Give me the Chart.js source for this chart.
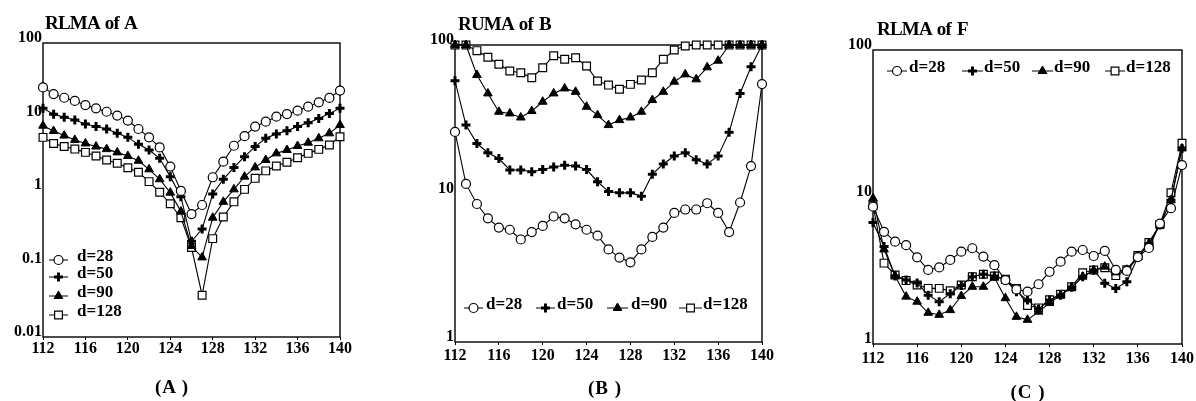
<!DOCTYPE html>
<html>
<head>
<meta charset="utf-8">
<title>RLMA</title>
<script src="https://cdn.jsdelivr.net/npm/chart.js"></script>
<style>
  body { margin: 0; background: #fff; }
  #page { position: relative; width: 1196px; height: 401px; overflow: hidden; }
  canvas { position: absolute; left: 0; top: 0; }
  .ttl { position: absolute; font: bold 19px 'Liberation Serif', serif; color: #000; white-space: nowrap; letter-spacing: -0.8px; word-spacing: 2px; }
  .cap { position: absolute; font: bold 19px 'Liberation Serif', serif; color: #000; white-space: nowrap; transform: translate(-50%, -50%); letter-spacing: 1px; }
</style>
</head>
<body>
<div id="page">
  <canvas id="chartA" width="1196" height="401"></canvas>
  <canvas id="chartB" width="1196" height="401"></canvas>
  <canvas id="chartC" width="1196" height="401"></canvas>
  <div class="ttl" style="left:45px;top:12px">RLMA of A</div>
  <div class="ttl" style="left:458px;top:13px">RUMA of B</div>
  <div class="ttl" style="left:877px;top:18px">RLMA of F</div>
  <div class="cap" style="left:172px;top:387px">(A )</div>
  <div class="cap" style="left:605px;top:388px">(B )</div>
  <div class="cap" style="left:1028px;top:392px">(C )</div>
</div>
<script>
'use strict';

// shared x values and labels
let positions = [112, 113, 114, 115, 116, 117, 118, 119, 120, 121, 122, 123, 124, 125, 126,
  127, 128, 129, 130, 131, 132, 133, 134, 135, 136, 137, 138, 139, 140];
let xTicks = [112, 116, 120, 124, 128, 132, 136, 140];
let legendLabels = ['d=28', 'd=50', 'd=90', 'd=128'];

// panel A
let yTicksA = [0.01, 0.1, 1, 10, 100];
let aD28 = [24.9, 20.2, 18.0, 16.3, 14.3, 12.9, 11.6, 10.3, 8.8, 6.76, 5.2, 3.8, 2.08, 0.97, 0.47,
  0.625, 1.49, 2.43, 4.0, 5.4, 7.3, 8.5, 9.95, 10.8, 12.0, 13.6, 15.6, 17.9, 22.5];
let aD50 = [12.9, 10.7, 9.75, 8.95, 7.9, 7.3, 6.76, 5.9, 5.2, 4.18, 3.5, 2.7, 1.52, 0.81, 0.2,
  0.294, 0.88, 1.40, 2.03, 2.84, 3.9, 5.05, 5.8, 6.4, 7.3, 8.2, 9.4, 11.0, 12.9];
let aD90 = [7.5, 6.35, 5.5, 4.8, 4.3, 3.9, 3.6, 3.25, 2.9, 2.5, 1.91, 1.40, 0.92, 0.51, 0.173,
  0.121, 0.42, 0.69, 1.02, 1.52, 2.03, 2.56, 3.15, 3.5, 3.97, 4.4, 5.05, 5.9, 7.65];
let aD128 = [5.2, 4.3, 3.9, 3.6, 3.25, 2.9, 2.56, 2.31, 2.01, 1.74, 1.30, 0.93, 0.65, 0.42, 0.165,
  0.037, 0.218, 0.43, 0.69, 1.02, 1.44, 1.82, 2.12, 2.38, 2.75, 3.15, 3.57, 4.1, 5.3];

// panel B
let yTicksB = [1, 10, 100];
let bD28 = [26.0, 11.6, 8.5, 6.8, 5.9, 5.7, 4.9, 5.5, 6.05, 7.0, 6.8, 6.2, 5.7, 5.2, 4.2,
  3.7, 3.44, 4.2, 5.1, 5.9, 7.4, 7.8, 7.8, 8.6, 7.4, 5.5, 8.7, 15.3, 54.6];
let bD50 = [57.4, 28.9, 21.7, 18.8, 17.2, 14.4, 14.4, 14.0, 14.5, 15.1, 15.5, 15.3, 14.5, 12.0, 10.3,
  10.1, 10.1, 9.6, 13.5, 15.8, 17.9, 18.8, 16.9, 15.8, 17.9, 25.8, 47.2, 71.4, 100];
let bD90 = [100, 100, 62.8, 47.2, 35.5, 34.6, 32.5, 35.9, 41.5, 47.2, 51.0, 48.4, 38.4, 33.7, 28.9,
  31.2, 32.5, 35.5, 42.6, 48.4, 56.6, 63.4, 58.7, 70.7, 78.4, 100, 100, 100, 100];
let bD128 = [100, 100, 91.6, 82.6, 74.1, 66.8, 65.1, 60.2, 70.3, 84.7, 80.1, 82.1, 72.2, 57.2, 53.7,
  50.3, 54.3, 58.1, 65.1, 80.1, 92.5, 98.5, 100, 100, 100, 100, 100, 100, 100];

// panel C
let yTicksC = [1, 10, 100];
let cD28 = [8.6, 5.8, 4.97, 4.7, 3.89, 3.19, 3.32, 3.73, 4.25, 4.48, 3.93, 3.44, 2.72, 2.35, 2.27,
  2.55, 3.1, 3.63, 4.25, 4.36, 3.97, 4.3, 3.19, 3.14, 3.9, 4.5, 6.6, 8.4, 16.5];
let cD50 = [6.7, 4.6, 2.9, 2.72, 2.6, 2.15, 1.94, 2.2, 2.5, 2.87, 2.98, 2.9, 2.72, 2.27, 1.99,
  1.73, 1.99, 2.15, 2.43, 2.87, 3.17, 2.59, 2.39, 2.65, 3.9, 4.8, 6.45, 9.5, 21.4];
let cD90 = [9.8, 4.4, 2.9, 2.1, 1.94, 1.63, 1.58, 1.70, 2.12, 2.45, 2.45, 2.83, 2.05, 1.53, 1.46,
  1.66, 1.90, 2.15, 2.43, 2.87, 3.17, 3.36, 3.07, 3.2, 3.9, 4.8, 6.45, 9.5, 21.4];
let cD128 = [8.8, 3.55, 2.95, 2.7, 2.52, 2.39, 2.39, 2.3, 2.52, 2.87, 2.98, 2.9, 2.76, 2.39, 1.83,
  1.76, 2.0, 2.18, 2.45, 3.05, 3.19, 3.3, 2.92, 3.2, 4.0, 4.9, 6.5, 10.7, 23.2];

// marker look for each d value
let markers = [
  { pointStyle: 'circle', radius: 4.5, fill: '#fff', width: 1.2 },
  { pointStyle: 'cross', radius: 4.5, fill: '#000', width: 3 },
  { pointStyle: 'triangle', radius: 5, fill: '#000', width: 1 },
  { pointStyle: 'rect', radius: 5.5, fill: '#fff', width: 1.2 }
];

function drawMarker(ctx, m, x, y) {
  let r = m.radius;
  ctx.save();
  ctx.fillStyle = m.fill;
  ctx.strokeStyle = '#000';
  ctx.lineWidth = m.width;
  ctx.beginPath();
  if (m.pointStyle === 'circle') {
    ctx.arc(x, y, r, 0, Math.PI * 2);
    ctx.fill();
    ctx.stroke();
  } else if (m.pointStyle === 'cross') {
    ctx.moveTo(x - r, y);
    ctx.lineTo(x + r, y);
    ctx.moveTo(x, y - r);
    ctx.lineTo(x, y + r);
    ctx.stroke();
  } else if (m.pointStyle === 'triangle') {
    ctx.moveTo(x, y - r);
    ctx.lineTo(x + 0.866 * r, y + 0.5 * r);
    ctx.lineTo(x - 0.866 * r, y + 0.5 * r);
    ctx.closePath();
    ctx.fill();
    ctx.stroke();
  } else {
    let s = r * Math.SQRT1_2;
    ctx.rect(x - s, y - s, 2 * s, 2 * s);
    ctx.fill();
    ctx.stroke();
  }
  ctx.restore();
}

// frame round the plot area and the in-plot legend
let panelDecor = {
  id: 'panelDecor',
  beforeDatasetsDraw(chart) {
    let a = chart.chartArea;
    let ctx = chart.ctx;
    ctx.save();
    ctx.strokeStyle = '#000';
    ctx.lineWidth = 1.4;
    ctx.strokeRect(a.left, a.top, a.right - a.left, a.bottom - a.top);
    ctx.restore();
  },
  afterDatasetsDraw(chart, args, opts) {
    let ctx = chart.ctx;
    let items = opts.items || [];
    for (let i = 0; i < items.length; i++) {
      let it = items[i];
      ctx.save();
      ctx.strokeStyle = '#000';
      ctx.lineWidth = 1;
      ctx.beginPath();
      ctx.moveTo(it[0], it[3]);
      ctx.lineTo(it[1], it[3]);
      ctx.stroke();
      drawMarker(ctx, markers[i], (it[0] + it[1]) / 2, it[3]);
      ctx.fillStyle = '#000';
      ctx.font = 'bold 17px "Liberation Serif", serif';
      ctx.textBaseline = 'middle';
      ctx.fillText(legendLabels[i], it[2], it[3] - 3);
      ctx.restore();
    }
  }
};

function makePanel(id, box, yMin, yTicks, series, legendItems, xPad) {
  let yW = 40;
  let xH = 30;
  let datasets = [];
  for (let i = 0; i < series.length; i++) {
    let m = markers[i];
    datasets.push({
      label: legendLabels[i],
      data: positions.map((x, j) => ({ x: x, y: series[i][j] })),
      borderColor: '#000',
      borderWidth: 1.1,
      backgroundColor: m.fill,
      pointStyle: m.pointStyle,
      pointRadius: m.radius,
      pointBorderWidth: m.width,
      pointBorderColor: '#000',
      pointBackgroundColor: m.fill,
      tension: 0,
      clip: false
    });
  }
  return new Chart(document.getElementById(id), {
    type: 'line',
    data: { datasets: datasets },
    plugins: [panelDecor],
    options: {
      responsive: false,
      animation: false,
      events: [],
      layout: {
        padding: { left: box.l - yW, top: box.t, right: 1196 - box.r, bottom: 401 - box.b - xH }
      },
      plugins: {
        legend: { display: false },
        tooltip: { enabled: false },
        panelDecor: { items: legendItems }
      },
      scales: {
        x: {
          type: 'linear',
          min: 112,
          max: 140,
          afterBuildTicks: s => { s.ticks = xTicks.map(v => ({ value: v })); },
          afterFit: s => { s.height = xH; },
          border: { display: false },
          grid: { display: true, drawOnChartArea: false, drawTicks: true, tickLength: 3, color: '#000' },
          ticks: {
            color: '#000',
            padding: xPad,
            maxRotation: 0,
            font: { family: 'Liberation Serif', weight: 'bold', size: 16 },
            callback: v => String(v)
          }
        },
        y: {
          type: 'logarithmic',
          min: yMin,
          max: 100,
          afterBuildTicks: s => { s.ticks = yTicks.map(v => ({ value: v })); },
          afterFit: s => { s.width = yW; },
          border: { display: false },
          grid: { display: false, drawTicks: false },
          ticks: {
            color: '#000',
            padding: 1,
            labelOffset: -5,
            font: { family: 'Liberation Serif', weight: 'bold', size: 16 },
            callback: v => String(v)
          }
        }
      }
    }
  });
}

// legend rows: [line start, line end, text x, y]
makePanel('chartA', { l: 43, t: 43, r: 340, b: 337 }, 0.01, yTicksA,
  [aD28, aD50, aD90, aD128],
  [[49, 68, 77, 260], [49, 68, 77, 277], [49, 68, 77, 296], [49, 68, 77, 315]], -1);

makePanel('chartB', { l: 455, t: 45, r: 762, b: 342 }, 1, yTicksB,
  [bD28, bD50, bD90, bD128],
  [[464, 483, 486, 308], [536, 555, 557, 308], [607, 628, 631, 308], [679, 702, 703, 308]], 1);

makePanel('chartC', { l: 873, t: 50, r: 1183, b: 344 }, 1, yTicksC,
  [cD28, cD50, cD90, cD128],
  [[887, 907, 909, 71], [962, 983, 984, 71], [1032, 1053, 1054, 71], [1105, 1125, 1126, 71]], 2);
</script>
</body>
</html>
